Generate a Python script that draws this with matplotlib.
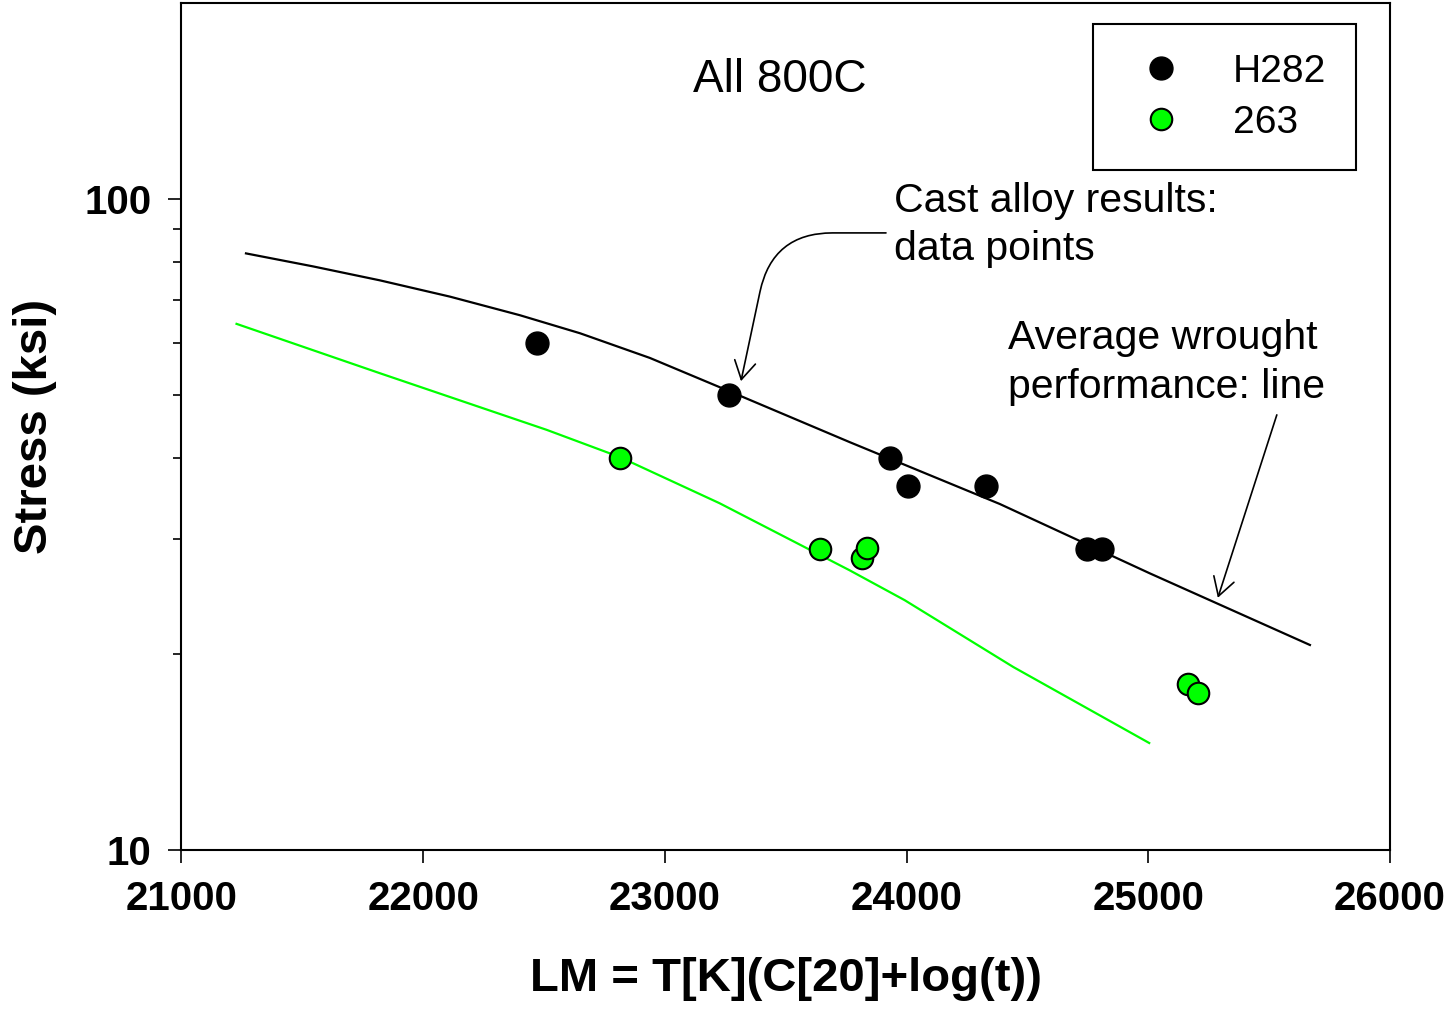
import numpy as np
import matplotlib
matplotlib.use("Agg")
import matplotlib.pyplot as plt

plt.rcParams["font.family"] = ["Liberation Sans", "DejaVu Sans"]

# --- data ---
# average wrought performance (lines)
lm_line_h282 = [21267, 21544, 21821, 22111, 22400, 22649, 22938, 23265,
                23766, 24386, 25007, 25669]
stress_line_h282 = [82.5, 78.8, 75.0, 70.8, 66.3, 62.2, 57.0, 50.7,
                    42.3, 34.0, 26.6, 20.65]
lm_line_263 = [21228, 21821, 22511, 22813, 23226, 23764, 23992, 24442, 25004]
stress_line_263 = [64.3, 54.0, 44.2, 40.15, 34.1, 26.9, 24.2, 19.1, 14.6]

# cast alloy results (points)
lm_pts_h282 = [22472, 23264, 23932, 24005, 24328, 24745, 24810]
stress_pts_h282 = [60.0, 50.0, 40.0, 36.3, 36.3, 29.0, 29.0]
lm_pts_263 = [22814, 23642, 23814, 23837, 25163, 25207]
stress_pts_263 = [40.0, 29.0, 28.1, 29.1, 18.0, 17.4]

x_ticks = [21000, 22000, 23000, 24000, 25000, 26000]
y_major = [10, 100]
y_minor = [20, 30, 40, 50, 60, 70, 80, 90]

green = "#00ff00"

fig = plt.figure(figsize=(14.48, 10.16), dpi=100)
ax = fig.add_axes([0.1253, 0.1634, 0.8346, 0.8336])

ax.plot(lm_line_h282, stress_line_h282, color="black", lw=1.6, zorder=2)
ax.plot(lm_line_263, stress_line_263, color=green, lw=1.6, zorder=2)
ax.plot(lm_pts_h282, stress_pts_h282, "o", color="black", ms=16.5,
        mec="black", label="H282", zorder=3)
ax.plot(lm_pts_263, stress_pts_263, "o", color=green, ms=15.5,
        mec="black", mew=1.5, label="263", zorder=3)

ax.set_yscale("log")
ax.set_xlim(21000, 26000)
ax.set_ylim(10, 200)
ax.set_xticks(x_ticks)
ax.set_xticklabels([str(v) for v in x_ticks])
ax.set_yticks(y_major)
ax.set_yticklabels([str(v) for v in y_major])
ax.set_yticks(y_minor, minor=True)
ax.set_yticklabels([], minor=True)
ax.xaxis.set_minor_locator(matplotlib.ticker.NullLocator())

for s in ax.spines.values():
    s.set_linewidth(1.5)
ax.tick_params(which="major", direction="out", length=9.5, width=1.2,
               labelsize=29, pad=12)
ax.tick_params(which="minor", direction="out", length=5.5, width=1.2)
for lab in ax.get_xticklabels() + ax.get_yticklabels():
    lab.set_fontweight("bold")

ax.set_xlabel("LM = T[K](C[20]+log(t))", fontsize=34, fontweight="bold",
              labelpad=28)
ax.set_ylabel("Stress (ksi)", fontsize=34, fontweight="bold", labelpad=20)

leg = ax.legend(loc="upper right", bbox_to_anchor=(0.972, 0.975),
                fontsize=28, frameon=True, fancybox=False, framealpha=1,
                edgecolor="black", borderpad=0.76, handlelength=2.0,
                handletextpad=0.85, labelspacing=0.38, borderaxespad=0)
leg.get_frame().set_linewidth(1.5)

# annotations
ax.text(0.423, 0.909, "All 800C", transform=ax.transAxes, fontsize=33,
        ha="left", va="center")
ax.text(0.590, 0.738, "Cast alloy results:\ndata points", transform=ax.transAxes,
        fontsize=29.5, ha="left", va="center", linespacing=1.36)
ax.text(0.684, 0.576, "Average wrought\nperformance: line", transform=ax.transAxes,
        fontsize=29.5, ha="left", va="center", linespacing=1.36)

ax.annotate("", xy=(23315, 52.5), xytext=(23915, 88.7),
            arrowprops=dict(arrowstyle="->,head_length=0.65,head_width=0.38",
                            connectionstyle="angle,angleA=0,angleB=78,rad=60",
                            lw=1.2, color="black", shrinkA=0, shrinkB=0,
                            mutation_scale=20))
ax.annotate("", xy=(25288, 24.4), xytext=(25532, 46.6),
            arrowprops=dict(arrowstyle="->,head_length=0.65,head_width=0.38",
                            lw=1.2, color="black", shrinkA=0, shrinkB=0,
                            mutation_scale=20))

fig.savefig("out.png", dpi=100)
